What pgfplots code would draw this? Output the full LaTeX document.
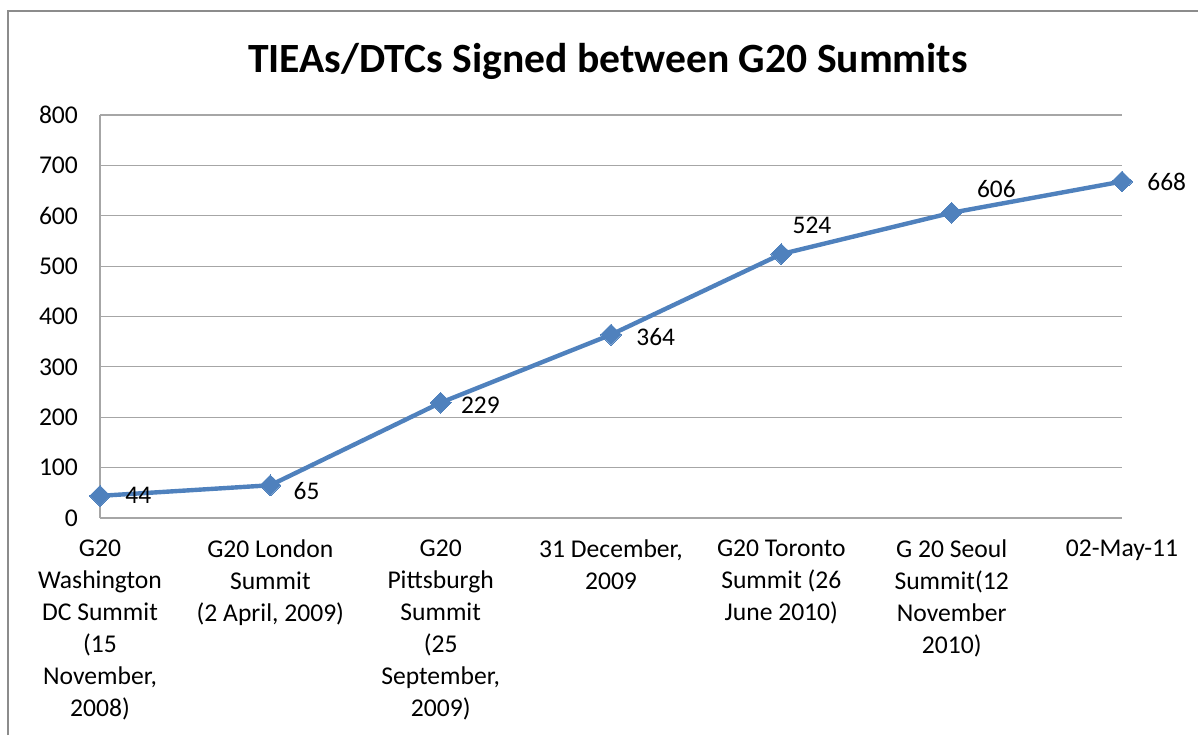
\documentclass[border=0pt]{standalone}
\usepackage{pgfplots}
\pgfplotsset{compat=1.18}
\usepackage{fontspec}
\setmainfont{Carlito}
\definecolor{exblue}{HTML}{4F81BD}
\definecolor{gridgray}{HTML}{A6A6A6}
\definecolor{framegray}{HTML}{8C8C8C}
\begin{document}
\begin{tikzpicture}[x=1pt,y=1pt]
\useasboundingbox (0,0) rectangle (599,367.5);
\draw[framegray, line width=1pt] (4,0) -- (4,362) -- (599,362);
\node[font=\bfseries\fontsize{20.8}{24}\selectfont] at (304,337) {TIEAs/DTCs Signed between G20 Summits};
\begin{axis}[
  at={(50pt,108.5pt)}, anchor=south west,
  scale only axis, width=511pt, height=201.5pt,
  xmin=0, xmax=6, ymin=0, ymax=800,
  ytick={0,100,...,800},
  xtick={0,1,2,3,4,5,6},
  xticklabels={{G20\\Washington\\DC Summit\\(15\\November,\\2008)},
    {G20 London\\Summit\\(2 April, 2009)},
    {G20\\Pittsburgh\\Summit\\(25\\September,\\2009)},
    {31 December,\\2009},
    {G20 Toronto\\Summit (26\\June 2010)},
    {G 20 Seoul\\Summit(12\\November\\2010)},
    {02-May-11}},
  axis x line*=bottom, axis y line*=left,
  axis line style={gridgray, line width=0.6pt, -},
  ymajorgrids, grid style={gridgray, line width=0.6pt},
  major tick length=0pt,
  /pgf/number format/assume math mode=true,
  tick label style={font=\fontsize{12.8}{16}\selectfont},
  xticklabel style={align=center, anchor=north, yshift=-7.5pt},
  yticklabel style={anchor=east, xshift=-7.5pt},
  clip=false,
]
\addplot[exblue, line width=2.2pt, mark=diamond*, mark size=5.2pt,
  mark options={xscale=1.35, fill=exblue, draw=exblue, line width=0pt}]
  coordinates {(0,44) (1,65) (2,229) (3,364) (4,524) (5,606) (6,668)};
\begin{scope}[every node/.style={font=\fontsize{12.7}{14}\selectfont, inner sep=0pt, anchor=west}]
\node[xshift=12.5pt] at (axis cs:0,44) {44};
\node[xshift=11.5pt, yshift=-3pt] at (axis cs:1,65) {65};
\node[xshift=10pt, yshift=-1.5pt] at (axis cs:2,229) {229};
\node[xshift=12.5pt, yshift=-1pt] at (axis cs:3,364) {364};
\node[xshift=5.5pt, yshift=14.5pt] at (axis cs:4,524) {524};
\node[xshift=12.5pt, yshift=12pt] at (axis cs:5,606) {606};
\node[xshift=12.5pt] at (axis cs:6,668) {668};
\end{scope}
\end{axis}
\end{tikzpicture}
\end{document}
